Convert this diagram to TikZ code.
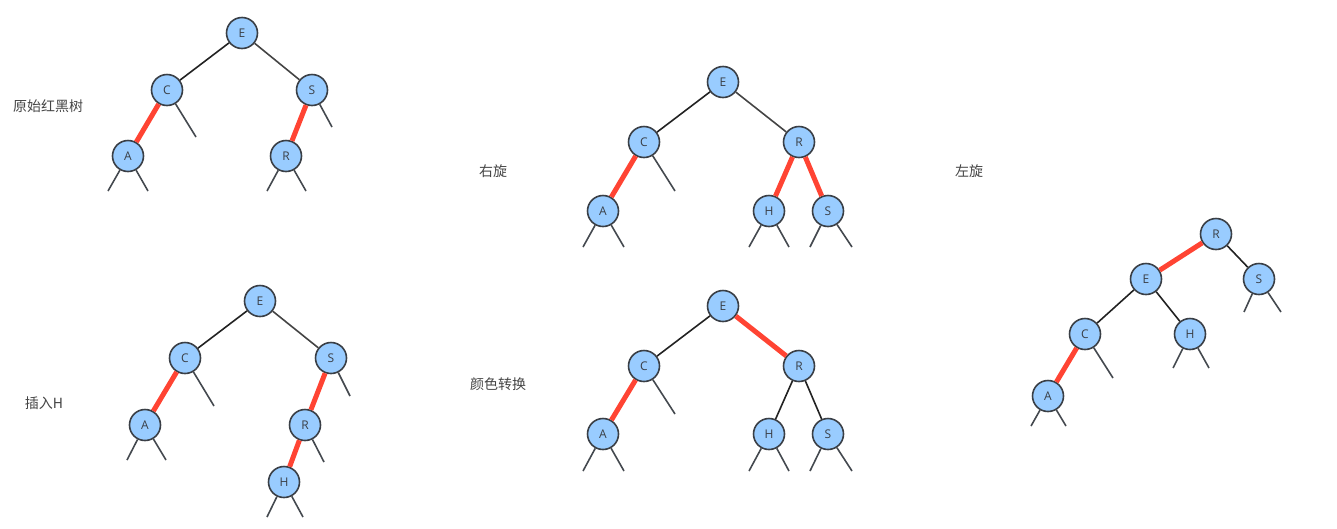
\documentclass[tikz,border=0pt]{standalone}
\usepackage{fontspec}
\setmainfont{Open Sans}
\newfontfamily\cjk{Noto Sans CJK SC}
\definecolor{nodefill}{HTML}{99CCFF}
\definecolor{nodeline}{HTML}{3A3F46}
\definecolor{redlink}{HTML}{FF4433}
\definecolor{blklink}{HTML}{222222}
\definecolor{grylink}{HTML}{444444}
\definecolor{txtgray}{HTML}{444444}
\begin{document}
\begin{tikzpicture}[x=1pt,y=-1pt,
  rb/.style={circle,draw=nodeline,line width=1.6pt,fill=nodefill,minimum size=31pt,inner sep=0pt,font=\fontsize{12}{14}\selectfont,text=nodeline},
  blk/.style={draw=blklink,line width=1.6pt},
  gry/.style={draw=grylink,line width=1.6pt},
  red/.style={draw=redlink,line width=5pt},
  leaf/.style={draw=nodeline!95,line width=1.6pt},
  lbl/.style={font=\cjk\fontsize{14}{16}\selectfont,text=txtgray}]
\useasboundingbox (0,0) rectangle (1337,528);
% ---- Tree 1: original
\node[rb] (aE) at (242,33) {E};
\node[rb] (aC) at (167,90) {C};
\node[rb] (aS) at (312,90) {S};
\node[rb] (aA) at (128,156) {A};
\node[rb] (aR) at (286,156) {R};
\coordinate (aC1) at (196,137);
\coordinate (aS1) at (332,127);
\coordinate (aA1) at (108,191);
\coordinate (aA2) at (148,191);
\coordinate (aR1) at (267,191);
\coordinate (aR2) at (306,191);
\path[blk] (aE) -- (aC);
\path[gry] (aE) -- (aS);
\path[red] (aC) -- (aA);
\path[red] (aS) -- (aR);
\path[leaf] (aC) -- (aC1);
\path[leaf] (aS) -- (aS1);
\path[leaf] (aA) -- (aA1);
\path[leaf] (aA) -- (aA2);
\path[leaf] (aR) -- (aR1);
\path[leaf] (aR) -- (aR2);
\node[lbl] (t1) at (48,106) {原始红黑树};
% ---- Tree 2: insert H
\node[rb] (bE) at (260,301) {E};
\node[rb] (bC) at (185,358) {C};
\node[rb] (bS) at (331,358) {S};
\node[rb] (bA) at (145,425) {A};
\node[rb] (bR) at (305,425) {R};
\node[rb] (bH) at (284,482) {H};
\coordinate (bC1) at (214,406);
\coordinate (bS1) at (350,396);
\coordinate (bA1) at (127,460);
\coordinate (bA2) at (166,460);
\coordinate (bR1) at (324,462);
\coordinate (bH1) at (267,517);
\coordinate (bH2) at (303,517);
\path[blk] (bE) -- (bC);
\path[gry] (bE) -- (bS);
\path[red] (bC) -- (bA);
\path[red] (bS) -- (bR);
\path[red] (bR) -- (bH);
\path[leaf] (bC) -- (bC1);
\path[leaf] (bS) -- (bS1);
\path[leaf] (bA) -- (bA1);
\path[leaf] (bA) -- (bA2);
\path[leaf] (bR) -- (bR1);
\path[leaf] (bH) -- (bH1);
\path[leaf] (bH) -- (bH2);
\node[lbl] (t2) at (44,403) {插入H};
% ---- Tree 3: right rotation
\node[rb] (cE) at (723,82) {E};
\node[rb] (cC) at (644,142) {C};
\node[rb] (cR) at (799,142) {R};
\node[rb] (cA) at (603,211) {A};
\node[rb] (cH) at (769,211) {H};
\node[rb] (cS) at (828,211) {S};
\coordinate (cC1) at (675,191);
\coordinate (cA1) at (583,247);
\coordinate (cA2) at (624,247);
\coordinate (cH1) at (749,247);
\coordinate (cH2) at (789,247);
\coordinate (cS1) at (810,247);
\coordinate (cS2) at (852,247);
\path[blk] (cE) -- (cC);
\path[gry] (cE) -- (cR);
\path[red] (cC) -- (cA);
\path[red] (cR) -- (cH);
\path[red] (cR) -- (cS);
\path[leaf] (cC) -- (cC1);
\path[leaf] (cA) -- (cA1);
\path[leaf] (cA) -- (cA2);
\path[leaf] (cH) -- (cH1);
\path[leaf] (cH) -- (cH2);
\path[leaf] (cS) -- (cS1);
\path[leaf] (cS) -- (cS2);
\node[lbl] (t3) at (493,171) {右旋};
% ---- Tree 4: colour flip
\node[rb] (dE) at (723,306) {E};
\node[rb] (dC) at (644,366) {C};
\node[rb] (dR) at (799,366) {R};
\node[rb] (dA) at (603,434) {A};
\node[rb] (dH) at (769,434) {H};
\node[rb] (dS) at (828,434) {S};
\coordinate (dC1) at (675,414);
\coordinate (dA1) at (583,471);
\coordinate (dA2) at (624,471);
\coordinate (dH1) at (749,471);
\coordinate (dH2) at (789,471);
\coordinate (dS1) at (810,471);
\coordinate (dS2) at (852,471);
\path[blk] (dE) -- (dC);
\path[red] (dE) -- (dR);
\path[red] (dC) -- (dA);
\path[blk] (dR) -- (dH);
\path[blk] (dR) -- (dS);
\path[leaf] (dC) -- (dC1);
\path[leaf] (dA) -- (dA1);
\path[leaf] (dA) -- (dA2);
\path[leaf] (dH) -- (dH1);
\path[leaf] (dH) -- (dH2);
\path[leaf] (dS) -- (dS1);
\path[leaf] (dS) -- (dS2);
\node[lbl] (t4) at (498,384) {颜色转换};
% ---- Tree 5: left rotation
\node[rb] (eR) at (1216,234) {R};
\node[rb] (eE) at (1146,279) {E};
\node[rb] (eS) at (1259,279) {S};
\node[rb] (eC) at (1085,334) {C};
\node[rb] (eH) at (1190,334) {H};
\node[rb] (eA) at (1048,396) {A};
\coordinate (eC1) at (1113,378);
\coordinate (eH1) at (1173,368);
\coordinate (eH2) at (1209,368);
\coordinate (eS1) at (1244,312);
\coordinate (eS2) at (1281,312);
\coordinate (eA1) at (1031,426);
\coordinate (eA2) at (1066,426);
\path[red] (eR) -- (eE);
\path[blk] (eR) -- (eS);
\path[blk] (eE) -- (eC);
\path[blk] (eE) -- (eH);
\path[red] (eC) -- (eA);
\path[leaf] (eC) -- (eC1);
\path[leaf] (eH) -- (eH1);
\path[leaf] (eH) -- (eH2);
\path[leaf] (eS) -- (eS1);
\path[leaf] (eS) -- (eS2);
\path[leaf] (eA) -- (eA1);
\path[leaf] (eA) -- (eA2);
\node[lbl] (t5) at (969,171) {左旋};
\end{tikzpicture}
\end{document}
